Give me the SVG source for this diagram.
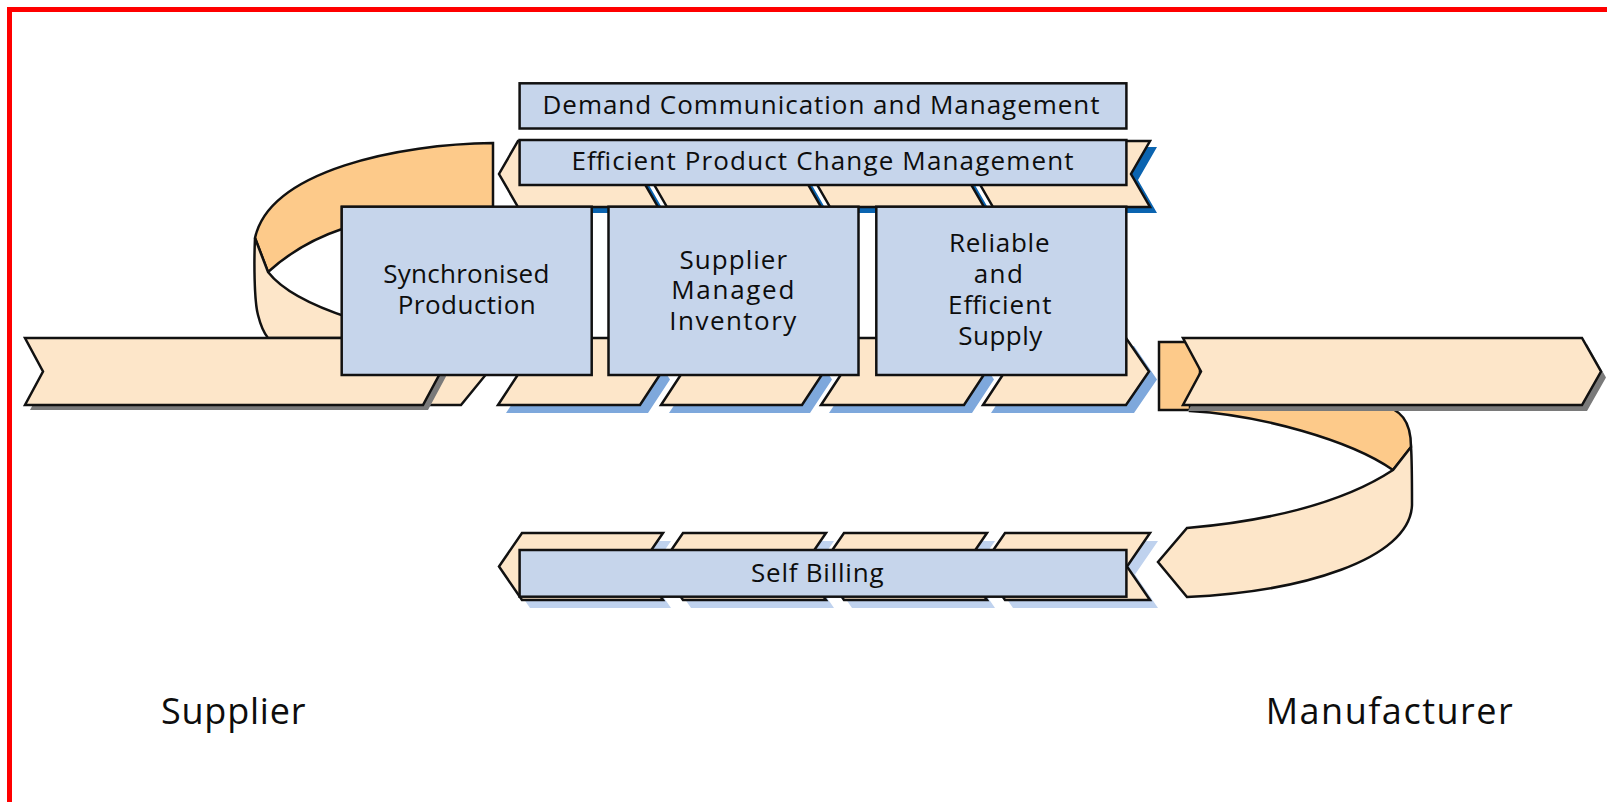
<svg xmlns="http://www.w3.org/2000/svg" width="1607" height="802" viewBox="0 0 1607 802">
<style>
.pk{fill:#fde6c9;stroke:#111;stroke-width:2.5;stroke-linejoin:miter}
.dk{fill:#fdca8a;stroke:#111;stroke-width:2.5;stroke-linejoin:miter}
.bx{fill:#c6d5eb;stroke:#111;stroke-width:2.5}
.s1{fill:#0b64b0}
.s2{fill:#7ea8dc}
.s3{fill:#bfd2ee}
.sg{fill:#7a7a7a}
.t{font-family:"Open Sans","Noto Sans",sans-serif;font-size:26px;fill:#0d0d0d}
.l{font-family:"Open Sans","Noto Sans",sans-serif;font-size:36px;fill:#0d0d0d}
</style>
<rect x="0" y="0" width="1607" height="802" fill="#fff"/>
<path d="M9.5,802 L9.5,9.5 L1607,9.5" fill="none" stroke="#f00" stroke-width="5"/>

<g id="left-loop">
  <path class="dk" d="M493,143 C400,144 270,170 255,238 L268,272 C290,252 315,238 342,229 L342,207 L493,207 Z"/>
  <path class="pk" d="M255,238 C254,260 254,300 258,315 C261,327 264,333 268,338 L350,338 L350,318 C310,305 282,290 268,272 Z"/>
</g>

<g id="top-strip">
  <g transform="translate(7,6)">
    <polygon class="s1" points="518,141 658,141 639,174 658,207 518,207 499,174"/>
    <polygon class="s1" points="667,141 821,141 802,174 821,207 667,207 648,174"/>
    <polygon class="s1" points="830,141 984,141 965,174 984,207 830,207 811,174"/>
    <polygon class="s1" points="993,141 1150,141 1131,174 1150,207 993,207 974,174"/>
  </g>
  <polygon class="pk" points="518,141 658,141 639,174 658,207 518,207 499,174"/>
  <polygon class="pk" points="667,141 821,141 802,174 821,207 667,207 648,174"/>
  <polygon class="pk" points="830,141 984,141 965,174 984,207 830,207 811,174"/>
  <polygon class="pk" points="993,141 1150,141 1131,174 1150,207 993,207 974,174"/>
</g>

<g id="demand">
  <rect class="bx" x="519.6" y="83.3" width="606.8" height="45.2"/>
  <text class="t" x="542.5" y="113.5" textLength="557" lengthAdjust="spacing">Demand Communication and Management</text>
</g>
<g id="epcm">
  <rect class="bx" x="519.6" y="140" width="606.8" height="45"/>
  <text class="t" x="571.5" y="170" textLength="502" lengthAdjust="spacing">Efficient Product Change Management</text>
</g>

<g id="middle-strip">
  <polygon class="pk" points="415,338 468,338 488,372 461,405 415,405"/>
  <g transform="translate(8,8)">
    <polygon class="s2" points="498,338 640,338 662,371.5 640,405 498,405 520,371.5"/>
    <polygon class="s2" points="661,338 802,338 824,371.5 802,405 661,405 683,371.5"/>
    <polygon class="s2" points="821,338 964,338 986,371.5 964,405 821,405 843,371.5"/>
    <polygon class="s2" points="983,338 1126,338 1149,371.5 1126,405 983,405 1005,371.5"/>
  </g>
  <polygon class="pk" points="498,338 640,338 662,371.5 640,405 498,405 520,371.5"/>
  <polygon class="pk" points="661,338 802,338 824,371.5 802,405 661,405 683,371.5"/>
  <polygon class="pk" points="821,338 964,338 986,371.5 964,405 821,405 843,371.5"/>
  <polygon class="pk" points="983,338 1126,338 1149,371.5 1126,405 983,405 1005,371.5"/>
</g>

<g id="supplier-arrow">
  <polygon class="sg" transform="translate(5,5)" points="25,338 423,338 441,371.5 423,405 25,405 43,371.5"/>
  <polygon class="pk" points="25,338 423,338 441,371.5 423,405 25,405 43,371.5"/>
</g>

<g id="sync">
  <rect class="bx" x="341.7" y="206.7" width="250" height="168.3"/>
  <text class="t" x="383.3" y="283" textLength="166" lengthAdjust="spacing">Synchronised</text>
  <text class="t" x="397.7" y="314" textLength="138" lengthAdjust="spacing">Production</text>
</g>
<g id="smi">
  <rect class="bx" x="608.5" y="206.7" width="250" height="168.3"/>
  <text class="t" x="679.5" y="268.5" textLength="107.6" lengthAdjust="spacing">Supplier</text>
  <text class="t" x="671.3" y="299" textLength="123" lengthAdjust="spacing">Managed</text>
  <text class="t" x="669.3" y="330" textLength="127" lengthAdjust="spacing">Inventory</text>
</g>
<g id="res">
  <rect class="bx" x="876.3" y="206.7" width="250" height="168.3"/>
  <text class="t" x="949" y="252" textLength="100.5" lengthAdjust="spacing">Reliable</text>
  <text class="t" x="973.7" y="283" textLength="49.2" lengthAdjust="spacing">and</text>
  <text class="t" x="948" y="314" textLength="103.5" lengthAdjust="spacing">Efficient</text>
  <text class="t" x="958.3" y="344.5" textLength="84" lengthAdjust="spacing">Supply</text>
</g>

<g id="right-loop">
  <path class="dk" d="M1159,342 L1200,342 L1200,410 L1159,410 Z"/>
  <path class="dk" d="M1190,406 L1380,406 C1400,408 1411,420 1411,447 L1393,470 C1350,440 1260,415 1190,411 Z"/>
  <path class="pk" d="M1411,447 C1412,460 1412,480 1412,505 C1410,560 1300,592 1187,597 L1158,562 L1187,528 C1260,522 1340,505 1393,470 Z"/>
</g>

<g id="manufacturer-arrow">
  <polygon class="sg" transform="translate(5,6)" points="1183,338 1582,338 1601,371.5 1582,405 1183,405 1201,371.5"/>
  <polygon class="pk" points="1183,338 1582,338 1601,371.5 1582,405 1183,405 1201,371.5"/>
</g>

<g id="bottom-strip">
  <g transform="translate(8,8)">
    <polygon class="s3" points="522,533 663,533 640,566.5 663,600 522,600 499,566.5"/>
    <polygon class="s3" points="683,533 826,533 803,566.5 826,600 683,600 660,566.5"/>
    <polygon class="s3" points="844,533 987,533 964,566.5 987,600 844,600 821,566.5"/>
    <polygon class="s3" points="1005,533 1150,533 1127,566.5 1150,600 1005,600 982,566.5"/>
  </g>
  <polygon class="pk" points="522,533 663,533 640,566.5 663,600 522,600 499,566.5"/>
  <polygon class="pk" points="683,533 826,533 803,566.5 826,600 683,600 660,566.5"/>
  <polygon class="pk" points="844,533 987,533 964,566.5 987,600 844,600 821,566.5"/>
  <polygon class="pk" points="1005,533 1150,533 1127,566.5 1150,600 1005,600 982,566.5"/>
</g>

<g id="self-billing">
  <rect class="bx" x="519.6" y="550" width="606.8" height="46.7"/>
  <text class="t" x="751" y="581.7" textLength="132.5" lengthAdjust="spacing">Self Billing</text>
</g>

<g id="labels">
  <text class="l" x="161" y="724" textLength="144.4" lengthAdjust="spacing">Supplier</text>
  <text class="l" x="1265.7" y="724" textLength="247" lengthAdjust="spacing">Manufacturer</text>
</g>

<g id="connectors"></g>
</svg>
